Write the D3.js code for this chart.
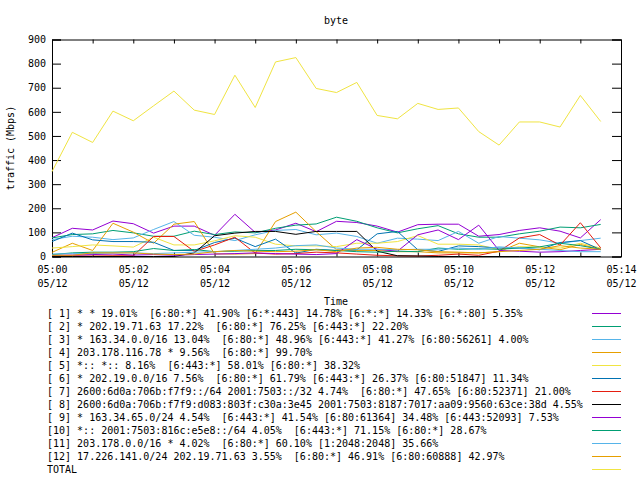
<!DOCTYPE html>
<html>
<head>
<meta charset="utf-8">
<script src="https://cdn.jsdelivr.net/npm/d3@7"></script>
<style>
  body { margin: 0; background: #fff; }
  svg text { font-family: "DejaVu Sans Mono", monospace; font-size: 10px; fill: #000; }
</style>
</head>
<body>
<div id="chart"></div>
<script>
// sample times (30 s steps) on 05/12
const day = '05/12';
const times = ['05:00:00','05:00:30','05:01:00','05:01:30','05:02:00','05:02:30','05:03:00','05:03:30',
  '05:04:00','05:04:30','05:05:00','05:05:30','05:06:00','05:06:30','05:07:00','05:07:30',
  '05:08:00','05:08:30','05:09:00','05:09:30','05:10:00','05:10:30','05:11:00','05:11:30',
  '05:12:00','05:12:30','05:13:00','05:13:30'];

const xTicks = ['05:00','05:01','05:02','05:03','05:04','05:05','05:06','05:07',
  '05:08','05:09','05:10','05:11','05:12','05:13','05:14'];
const yTicks = [0, 100, 200, 300, 400, 500, 600, 700, 800, 900];

const labels = [
  '[ 1] * * 19.01%  [6:80:*] 41.90% [6:*:443] 14.78% [6:*:*] 14.33% [6:*:80] 5.35%',
  '[ 2] * 202.19.71.63 17.22%  [6:80:*] 76.25% [6:443:*] 22.20%',
  '[ 3] * 163.34.0.0/16 13.04%  [6:80:*] 48.96% [6:443:*] 41.27% [6:80:56261] 4.00%',
  '[ 4] 203.178.116.78 * 9.56%  [6:80:*] 99.70%',
  '[ 5] *:: *:: 8.16%  [6:443:*] 58.01% [6:80:*] 38.32%',
  '[ 6] * 202.19.0.0/16 7.56%  [6:80:*] 61.79% [6:443:*] 26.37% [6:80:51847] 11.34%',
  '[ 7] 2600:6d0a:706b:f7f9::/64 2001:7503::/32 4.74%  [6:80:*] 47.65% [6:80:52371] 21.00%',
  '[ 8] 2600:6d0a:706b:f7f9:d083:803f:c30a:3e45 2001:7503:8187:7017:aa09:9560:63ce:38d 4.55%',
  '[ 9] * 163.34.65.0/24 4.54%  [6:443:*] 41.54% [6:80:61364] 34.48% [6:443:52093] 7.53%',
  '[10] *:: 2001:7503:816c:e5e8::/64 4.05%  [6:443:*] 71.15% [6:80:*] 28.67%',
  '[11] 203.178.0.0/16 * 4.02%  [6:80:*] 60.10% [1:2048:2048] 35.66%',
  '[12] 17.226.141.0/24 202.19.71.63 3.55%  [6:80:*] 46.91% [6:80:60888] 42.97%',
  'TOTAL'
];

const colors = ['#9400d3','#009e73','#56b4e9','#e69f00','#f0e442','#0072b2','#e51e10','#000000',
  '#9400d3','#009e73','#56b4e9','#e69f00','#f0e442'];

// Mbps per sample
const s1  = [78,117,110,147,136,97,126,126,88,175,100,110,138,103,146,141,126,101,132,134,134,84,91,108,119,105,77,153];
const s2  = [77,91,94,108,98,84,84,105,91,102,98,117,130,135,163,146,119,98,115,128,94,80,80,94,105,122,119,133];
const s3  = [70,84,80,70,77,112,145,88,80,66,90,108,112,90,97,83,55,76,72,66,104,55,83,76,69,55,66,76];
const s4  = [17,55,25,138,101,55,134,145,11,10,12,145,184,103,28,25,25,20,20,15,15,15,20,55,40,28,50,30];
const s5  = [35,41,48,44,39,80,48,48,65,86,80,51,44,44,41,55,55,62,87,51,51,48,28,41,39,35,55,35];
const s6  = [62,97,69,62,62,59,25,25,58,76,41,72,14,30,25,28,94,104,28,21,44,41,35,35,28,58,66,28];
const s7  = [3,3,2,3,3,83,83,21,48,80,14,10,12,18,15,10,5,3,2,5,10,5,22,77,91,47,140,36];
const s8  = [0,0,0,0,0,0,0,15,86,97,104,104,92,104,104,104,22,3,2,0,0,0,0,0,0,0,0,0];
const s9  = [5,6,8,10,6,8,5,8,10,12,15,12,10,8,12,70,30,22,90,110,70,130,25,22,18,20,25,30];
const s10 = [8,15,18,18,20,33,25,29,20,22,25,25,30,28,25,20,18,22,20,35,30,32,30,35,40,55,45,30];
const s11 = [10,12,12,15,15,12,15,18,20,25,30,35,45,48,35,30,30,28,30,30,35,30,40,35,30,25,20,20];
const s12 = [5,5,15,15,15,10,8,10,20,25,22,20,22,28,20,35,38,30,28,20,18,15,20,25,30,45,35,30];
const total = [352,515,473,603,563,625,686,607,589,752,618,807,825,697,680,722,585,571,635,610,616,518,462,558,558,537,668,560];

const series = [s1, s2, s3, s4, s5, s6, s7, s8, s9, s10, s11, s12, total];

const W = 640, H = 480;
const plot = { left: 52, right: 621, top: 39.5, bottom: 256.5 };

const parseT = d3.timeParse('%m/%d %H:%M:%S');
const parseTick = d3.timeParse('%m/%d %H:%M');

const x = d3.scaleTime()
  .domain([parseTick(`${day} ${xTicks[0]}`), parseTick(`${day} ${xTicks[xTicks.length - 1]}`)])
  .range([plot.left, plot.right]);
const y = d3.scaleLinear().domain([0, 900]).range([plot.bottom, plot.top]);

const svg = d3.select('#chart').append('svg')
  .attr('width', W).attr('height', H);

// title and axis labels
svg.append('text').attr('x', 336).attr('y', 24).attr('text-anchor', 'middle').text('byte');
svg.append('text')
  .attr('transform', `translate(14,${(plot.top + plot.bottom) / 2}) rotate(-90)`)
  .attr('text-anchor', 'middle').text('traffic (Mbps)');
svg.append('text').attr('x', 336).attr('y', 305).attr('text-anchor', 'middle').text('Time');

const tickDates = xTicks.map(t => parseTick(`${day} ${t}`));

// bottom axis, labels on even minutes
const gx = svg.append('g')
  .attr('transform', `translate(0,${plot.bottom})`)
  .call(d3.axisBottom(x).tickValues(tickDates).tickSize(-4).tickPadding(9)
    .tickFormat((d, i) => i % 2 === 0 ? d3.timeFormat('%H:%M')(d) : ''));
gx.selectAll('.tick text').each(function(d, i) {
  if (i % 2) return;
  const t = d3.select(this);
  t.text(null);
  t.append('tspan').attr('x', 0).attr('dy', '0.71em').text(d3.timeFormat('%H:%M')(d));
  t.append('tspan').attr('x', 0).attr('dy', '1.4em').text(d3.timeFormat('%m/%d')(d));
}).attr('dy', null);

svg.append('g')
  .attr('transform', `translate(0,${plot.top})`)
  .call(d3.axisTop(x).tickValues(tickDates).tickSize(-4).tickFormat(''));

svg.append('g')
  .attr('transform', `translate(${plot.left},0)`)
  .call(d3.axisLeft(y).tickValues(yTicks).tickSize(-9).tickPadding(6));

svg.append('g')
  .attr('transform', `translate(${plot.right},0)`)
  .call(d3.axisRight(y).tickValues(yTicks).tickSize(-9).tickFormat(''));

svg.selectAll('.domain').attr('stroke', '#000');
svg.selectAll('.tick line').attr('stroke', '#000');
svg.selectAll('.tick text').style('font-family', '"DejaVu Sans Mono", monospace').style('font-size', '10px');

// series lines
const line = d3.line()
  .x((d, i) => x(parseT(`${day} ${times[i]}`)))
  .y(d => y(d));

series.forEach((s, k) => {
  svg.append('path')
    .datum(s)
    .attr('fill', 'none')
    .attr('stroke', colors[k])
    .attr('stroke-width', 1)
    .attr('d', line);
});

// legend
labels.forEach((lab, k) => {
  const ly = 313 + k * 13;
  svg.append('text').attr('x', 47).attr('y', ly).attr('dy', '0.35em')
    .attr('xml:space', 'preserve').style('white-space', 'pre').text(lab);
  svg.append('line')
    .attr('x1', 592).attr('x2', 621).attr('y1', ly + 0.5).attr('y2', ly + 0.5)
    .attr('stroke', colors[k]).attr('stroke-width', 1);
});
</script>
</body>
</html>
